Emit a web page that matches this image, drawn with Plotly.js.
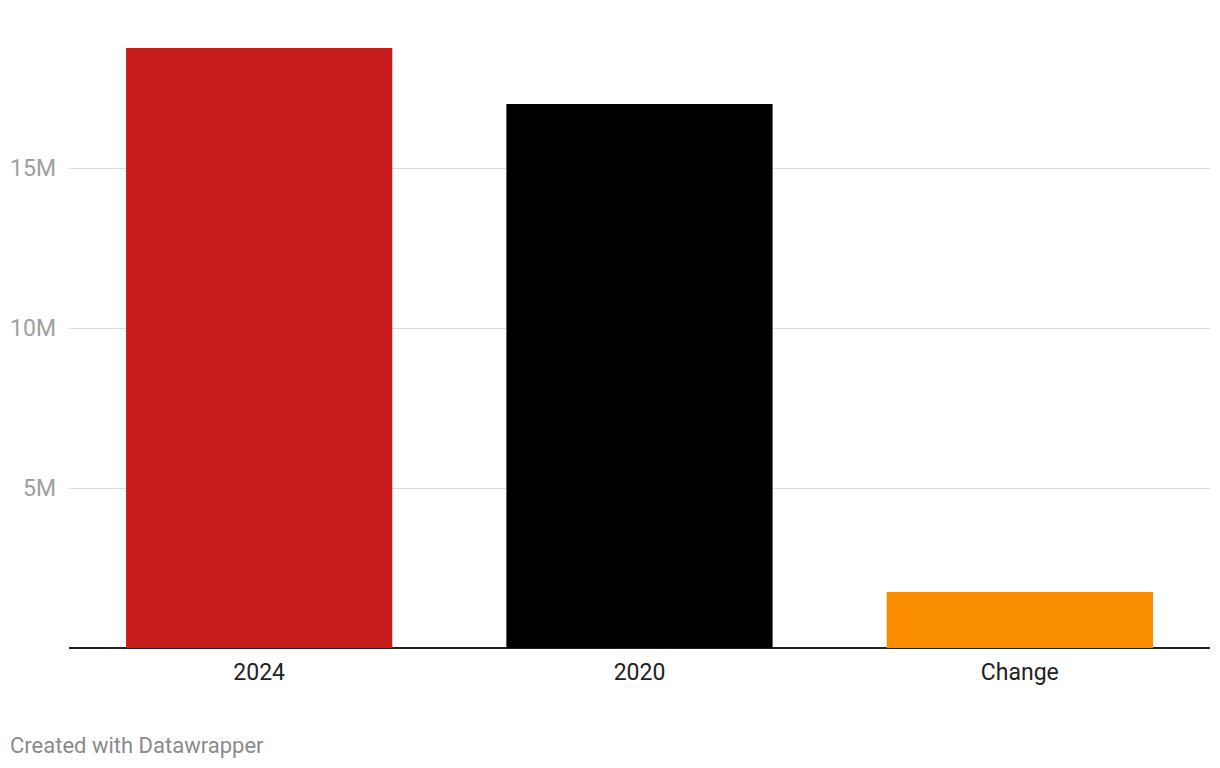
<!DOCTYPE html>
<html>
<head>
<meta charset="utf-8">
<script src="https://cdn.plot.ly/plotly-3.0.1.min.js"></script>
<style>
html,body{margin:0;padding:0;background:#fff;}
#chart{width:1220px;height:768px;}
</style>
</head>
<body>
<div id="chart"></div>
<script>
const categories = ["2024", "2020", "Change"];
const values = [18750000, 17000000, 1750000];
const barColors = ["#c71e1d", "#000000", "#fa8c00"];
const yTickVals = [5000000, 10000000, 15000000];
const yTickText = ["5M", "10M", "15M"];

const trace = {
  type: "bar",
  x: categories,
  y: values,
  marker: {color: barColors, line: {width: 0}},
  hoverinfo: "x+y"
};

const layout = {
  width: 1220,
  height: 768,
  margin: {l: 69, r: 10, t: 8, b: 120},
  paper_bgcolor: "#ffffff",
  plot_bgcolor: "#ffffff",
  bargap: 0.3,
  showlegend: false,
  font: {family: "Roboto, sans-serif"},
  xaxis: {
    type: "category",
    showgrid: false,
    zeroline: false,
    showline: false,
    ticks: "",
    ticklabelstandoff: 8,
    tickfont: {family: "Roboto, sans-serif", size: 23, color: "#222222"}
  },
  yaxis: {
    range: [0, 20000000],
    tickvals: yTickVals,
    ticktext: yTickText,
    showgrid: true,
    gridcolor: "#dddddd",
    gridwidth: 1,
    zeroline: true,
    zerolinecolor: "#222222",
    zerolinewidth: 2,
    showline: false,
    ticks: "",
    ticklabelstandoff: 12,
    tickfont: {family: "Roboto, sans-serif", size: 23, color: "#a0a0a0"}
  },
  annotations: [{
    text: "Created with Datawrapper",
    xref: "paper", yref: "paper",
    x: 0, y: 0,
    xshift: -61, yshift: -97,
    xanchor: "left", yanchor: "middle",
    showarrow: false,
    font: {family: "Roboto, sans-serif", size: 22, color: "#8a8a8a"}
  }]
};

Plotly.newPlot("chart", [trace], layout, {displayModeBar: false, staticPlot: true});
</script>
</body>
</html>
